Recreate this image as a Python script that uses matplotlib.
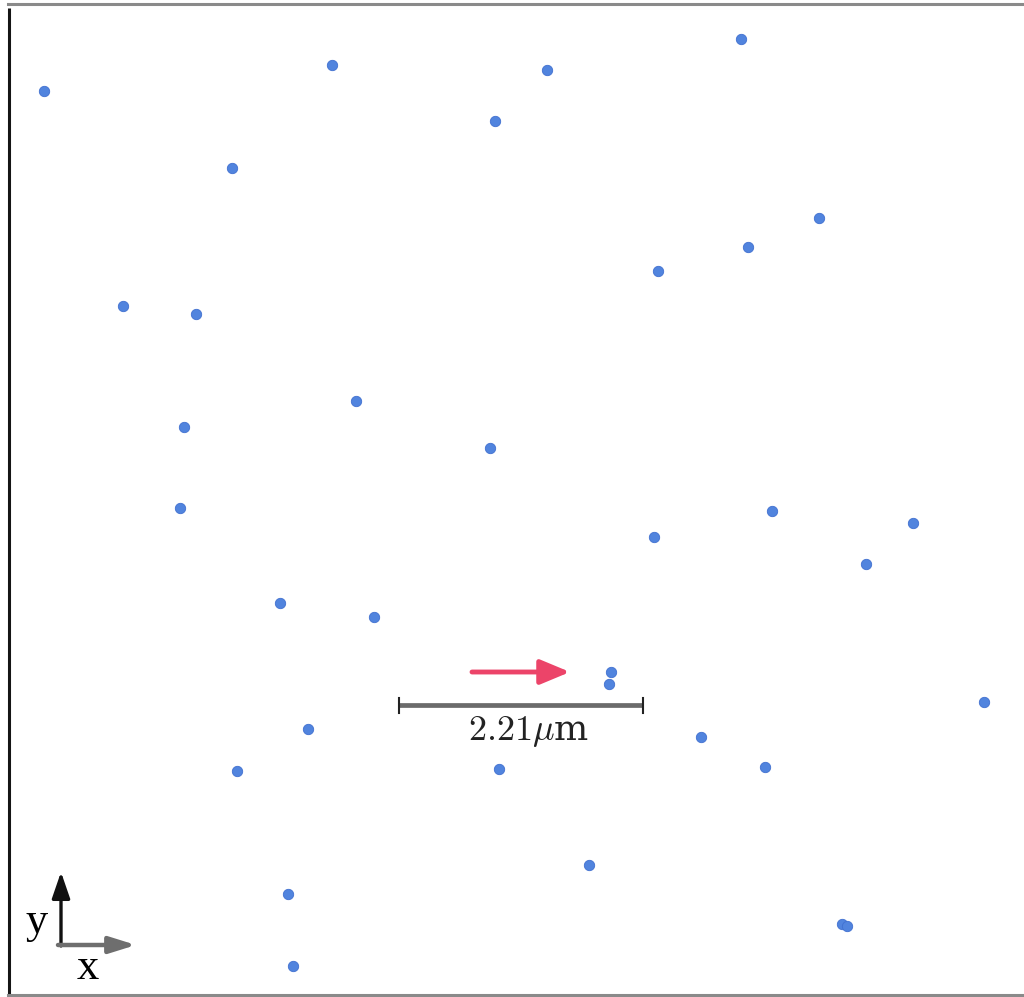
import matplotlib
matplotlib.use("Agg")
import matplotlib.pyplot as plt

# particle positions (image pixel coordinates, y pointing down)
px = [44, 332, 547, 741, 495, 232, 819, 748, 658, 123, 196, 356, 184, 490,
      180, 772, 913, 654, 866, 280, 374, 611, 609, 984, 308, 701, 237, 499,
      765, 589, 288, 842, 847, 293]
py = [91, 65, 70, 39, 121, 168, 218, 247, 271, 306, 314, 401, 427, 448,
      508, 511, 523, 537, 564, 603, 617, 672, 684, 702, 729, 737, 771, 769,
      767, 865, 894, 924, 926, 966]

scale_label = r"$2.21\mu$m"

W, H = 1024, 997
fig = plt.figure(figsize=(W / 100, H / 100), dpi=100)
ax = fig.add_axes([0, 0, 1, 1])
ax.set_xlim(0, W)
ax.set_ylim(H, 0)
ax.axis("off")
plt.rcParams["mathtext.fontset"] = "cm"

# frame
ax.plot([9, 9], [8, 995], color="#151515", lw=2.2, solid_capstyle="butt")
ax.plot([8, W], [4, 4], color="#8a8a8a", lw=2.2)
ax.plot([8, W], [995, 995], color="#8a8a8a", lw=2.2)

# particles
ax.scatter(px, py, s=56, color="#5184de", edgecolors="#4070d0", linewidths=0.6, zorder=3)

# scale bar
ax.plot([399, 643], [705, 705], color="#6b6b6b", lw=3.4, solid_capstyle="butt")
for xe in (399, 643):
    ax.plot([xe, xe], [698, 713], color="#222222", lw=1.5)
ax.text(529, 731, scale_label, ha="center", va="center", fontsize=26,
        family="DejaVu Serif", color="#222222")

# direction arrow
ax.annotate("", xy=(570, 672), xytext=(472, 672),
            arrowprops=dict(arrowstyle="-|>,head_length=1.8,head_width=0.75",
                            color="#ec4469", lw=3.5, shrinkA=0, shrinkB=0))

# coordinate indicator
ax.annotate("", xy=(61, 872), xytext=(61, 946),
            arrowprops=dict(arrowstyle="-|>,head_length=1.6,head_width=0.55",
                            color="#111111", lw=2.4, shrinkA=0, shrinkB=0))
ax.annotate("", xy=(136, 945), xytext=(58, 945),
            arrowprops=dict(arrowstyle="-|>,head_length=1.6,head_width=0.5",
                            color="#6e6e6e", lw=3.2, shrinkA=0, shrinkB=0))
ax.text(37, 922, "y", ha="center", va="center", fontsize=32, family="Liberation Serif")
ax.text(88, 968, "x", ha="center", va="center", fontsize=32, family="Liberation Serif")

fig.savefig("out.png", dpi=100)
